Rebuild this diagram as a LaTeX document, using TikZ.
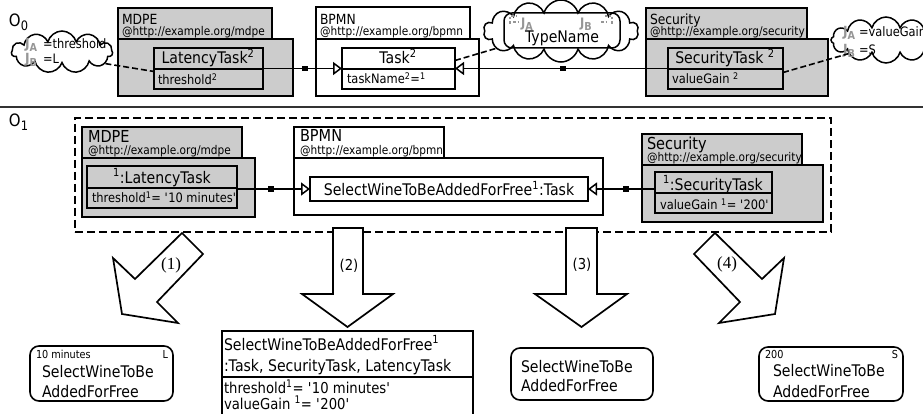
\documentclass[tikz,border=0pt]{standalone}
\usepackage{fontspec}
\setmainfont{DejaVu Sans}[FakeStretch=0.88]
\newfontfamily\numserif{Liberation Serif}
\usetikzlibrary{arrows.meta,shapes.symbols}
\definecolor{pkggray}{RGB}{204,204,204}
\definecolor{jgray}{RGB}{150,150,150}
\newcommand\fs[1]{\fontsize{#1}{#1}\selectfont}
\newcommand\supr[1]{\textsuperscript{#1}}
\newcommand\q{\textquotesingle}
\newcommand\Jsub[1]{{\color{jgray}\bfseries J\raisebox{-3pt}{\fs{11}#1}}}
\newcommand\Osub[1]{O\raisebox{-4pt}{\fs{13}#1}}
\begin{document}
\begin{tikzpicture}[x=1pt,y=-1pt,
  rect/.style={draw, anchor=north west, inner sep=0pt, outer sep=0pt},
  pkg/.style={rect, line width=2.4pt},
  cls/.style={rect, line width=2pt},
  divline/.style={line width=1.6pt},
  txt/.style={inner sep=0pt, outer sep=0pt, anchor=base west},
  ctxt/.style={inner sep=0pt, outer sep=0pt, anchor=base},
  rtxt/.style={inner sep=0pt, outer sep=0pt, anchor=base east},
  conn/.style={line width=1.5pt, -{Triangle[open, length=9pt, width=13pt, line width=1.5pt]}},
  sq/.style={fill=black, draw=none, minimum size=5.5pt, inner sep=0pt},
  dlink/.style={line width=1.6pt, dash pattern=on 6pt off 3pt},
  cloudst/.style={cloud, cloud puffs=11, cloud ignores aspect, draw, line width=1.5pt, fill=white, inner sep=0pt},
  result/.style={rect, line width=1.6pt, rounded corners=9pt},
  bigarrow/.style={draw, line width=1.7pt, fill=white, line join=miter},
  jcorner/.style={jgray, line width=1.2pt, dash pattern=on 2.5pt off 2pt},
]
\useasboundingbox (0,0) rectangle (923,414);

% ---------------- O_0 ----------------
\node[txt] (o0) at (9,27) {\fs{17}\Osub{0}};

% MDPE
\node[pkg, fill=pkggray, minimum width=154pt, minimum height=31pt] (mdpeTabA) at (118,8) {};
\node[pkg, fill=pkggray, minimum width=175pt, minimum height=57pt] (mdpeBodyA) at (118,39) {};
\node[cls, minimum width=109pt, minimum height=41pt] (latA) at (154,48) {};
\draw[divline] ([yshift=-21pt]latA.north west) -- ([yshift=-21pt]latA.north east);
\node[txt] (mdpeAn) at (122,25) {\fs{14}MDPE};
\node[txt] (mdpeAu) at (122,36) {\fs{12}@http://example.org/mdpe};
\node[ctxt] (latAn) at (208,64) {\fs{16}LatencyTask\supr{2}};
\node[txt] (latAa) at (158,85) {\fs{13}threshold\supr{2}};

% BPMN
\node[pkg, fill=white, minimum width=154pt, minimum height=32pt] (bpmnTabA) at (316,7) {};
\node[pkg, fill=white, minimum width=163pt, minimum height=57pt] (bpmnBodyA) at (316,39) {};
\node[cls, minimum width=113pt, minimum height=41pt] (taskA) at (342,48) {};
\draw[divline] ([yshift=-21pt]taskA.north west) -- ([yshift=-21pt]taskA.north east);
\node[txt] (bpmnAn) at (320,25) {\fs{14}BPMN};
\node[txt] (bpmnAu) at (320,36) {\fs{12}@http://example.org/bpmn};
\node[ctxt] (taskAn) at (398,64) {\fs{16}Task\supr{2}};
\node[txt] (taskAa) at (347,84) {\fs{13}taskName\supr{2}=\supr{1}};

% Security
\node[pkg, fill=pkggray, minimum width=161pt, minimum height=31pt] (secTabA) at (646,8) {};
\node[pkg, fill=pkggray, minimum width=182pt, minimum height=57pt] (secBodyA) at (646,39) {};
\node[cls, minimum width=115pt, minimum height=41pt] (secA) at (668,48) {};
\draw[divline] ([yshift=-21pt]secA.north west) -- ([yshift=-21pt]secA.north east);
\node[txt] (secAn) at (650,25) {\fs{14}Security};
\node[txt] (secAu) at (650,36) {\fs{12}@http://example.org/security};
\node[ctxt] (secAcn) at (725,64) {\fs{16}SecurityTask \supr{2}};
\node[txt] (secAa) at (672,84) {\fs{13}valueGain \supr{2}};

% connectors O_0
\draw[conn] (latA.east) -- (taskA.west);
\draw[conn] (secA.west) -- (taskA.east);
\node[sq] (sqA1) at (305,68.5) {};
\node[sq] (sqA2) at (563,68.5) {};

% clouds O_0
\node[cloudst, minimum width=101pt, minimum height=42pt] (cloudL) at (62,52) {};
\node[txt] (jaL) at (25,49) {\fs{14}\Jsub{A}};
\node[txt] (eqaL) at (43,49) {\fs{13}=threshold};
\node[txt] (jbL) at (25,64) {\fs{14}\Jsub{B}};
\node[txt] (eqbL) at (43,64) {\fs{13}=L};

\node[cloudst, cloud puffs=14, minimum width=155pt, minimum height=62pt] (cloudT) at (561,31) {};
\node[rect, line width=1.5pt, rounded corners=8pt, minimum width=116pt, minimum height=35pt] (tnBox) at (504,13) {};
\node[ctxt] (tnText) at (562,43) {\fs{16}TypeName};
\node[txt] (tnJA) at (521,28) {\fs{13}\Jsub{A}};
\node[txt] (tnJB) at (580,28) {\fs{13}\Jsub{B}};
\draw[jcorner] (510,24) -- (510,16) -- (517,16);
\draw[jcorner] (513,22) -- (518,22);
\draw[jcorner] (612,24) -- (612,16) -- (605,16);
\draw[jcorner] (601,22) -- (606,22);

\node[cloudst, cloud puffs=12, minimum width=110pt, minimum height=46pt] (cloudR) at (886,40) {};
\node[txt] (jaR) at (843,37) {\fs{14}\Jsub{A}};
\node[txt] (eqaR) at (859,37) {\fs{13}=valueGain};
\node[txt] (jbR) at (843,55) {\fs{14}\Jsub{B}};
\node[txt] (eqbR) at (859,55) {\fs{13}=S};

\draw[dlink] (cloudL.-15) -- ([yshift=-3pt]latA.west);
\draw[dlink] ([yshift=8pt]taskA.east) -- (cloudT.195);
\draw[dlink] ([yshift=-4pt]secA.east) -- (cloudR.200);

% separator
\draw[line width=1.6pt, black!80] (0,107) -- (923,107);

% ---------------- O_1 ----------------
\node[txt] (o1) at (9,127) {\fs{17}\Osub{1}};
\node[rect, line width=1.6pt, dash pattern=on 8pt off 4pt, minimum width=756pt, minimum height=114pt] (frame) at (75,118) {};

% MDPE
\node[pkg, fill=pkggray, minimum width=160pt, minimum height=31pt] (mdpeTabB) at (82,127) {};
\node[pkg, fill=pkggray, minimum width=173pt, minimum height=59pt] (mdpeBodyB) at (82,158) {};
\node[cls, minimum width=150pt, minimum height=42pt] (latB) at (87,166) {};
\draw[divline] ([yshift=-22pt]latB.north west) -- ([yshift=-22pt]latB.north east);
\node[txt] (mdpeBn) at (88,143) {\fs{16.5}MDPE};
\node[txt] (mdpeBu) at (88,155) {\fs{12}@http://example.org/mdpe};
\node[ctxt] (latBn) at (162,183) {\fs{16}\supr{1}:LatencyTask};
\node[txt] (latBa) at (92,203) {\fs{13}threshold\supr{1}= \q10 minutes\q};

% BPMN
\node[pkg, fill=white, minimum width=150pt, minimum height=31pt] (bpmnTabB) at (294,127) {};
\node[pkg, fill=white, minimum width=309pt, minimum height=57pt] (bpmnBodyB) at (294,158) {};
\node[cls, minimum width=278pt, minimum height=24pt] (selB) at (310,177) {};
\node[txt] (bpmnBn) at (300,142) {\fs{16.5}BPMN};
\node[txt] (bpmnBu) at (300,155) {\fs{12}@http://example.org/bpmn};
\node[ctxt] (selBn) at (449,196) {\fs{16}SelectWineToBeAddedForFree\supr{1}:Task};

% Security
\node[pkg, fill=pkggray, minimum width=160pt, minimum height=31pt] (secTabB) at (642,134) {};
\node[pkg, fill=pkggray, minimum width=181pt, minimum height=57pt] (secBodyB) at (642,165) {};
\node[cls, minimum width=117pt, minimum height=41pt] (secB) at (655,172) {};
\draw[divline] ([yshift=-21pt]secB.north west) -- ([yshift=-21pt]secB.north east);
\node[txt] (secBn) at (647,150) {\fs{16.5}Security};
\node[txt] (secBu) at (647,162) {\fs{12}@http://example.org/security};
\node[ctxt] (secBcn) at (713,190) {\fs{16}\supr{1}:SecurityTask};
\node[txt] (secBa) at (660,210) {\fs{13}valueGain \supr{1}= \q200\q};

% connectors O_1
\draw[conn] (latB.east |- selB.west) -- (selB.west);
\draw[conn] (secB.west |- selB.east) -- (selB.east);
\node[sq] (sqB1) at (271,189) {};
\node[sq] (sqB2) at (626,189) {};

% ---------------- big arrows ----------------
\draw[bigarrow] (182,233) -- (135,279) -- (113,258) -- (122,314) -- (178,323) -- (157,302) -- (203,254) -- cycle;
\draw[bigarrow] (333,228) -- (333,294) -- (302,294) -- (347.5,327) -- (393,294) -- (363,294) -- (363,228) -- cycle;
\draw[bigarrow] (566,228) -- (566,294) -- (535,294) -- (581.5,327) -- (627,294) -- (597,294) -- (597,228) -- cycle;
\draw[bigarrow] (715,233) -- (762,279) -- (784,258) -- (775,314) -- (719,323) -- (740,302) -- (694,254) -- cycle;
\node[anchor=center, inner sep=0pt] (lab1) at (171,265) {\numserif\fs{17}(1)};
\node[anchor=center, inner sep=0pt] (lab2) at (349,266) {\fs{15}(2)};
\node[anchor=center, inner sep=0pt] (lab3) at (582,265) {\fs{15}(3)};
\node[anchor=center, inner sep=0pt] (lab4) at (727,264) {\numserif\fs{17}(4)};

% ---------------- results ----------------
\node[result, minimum width=143pt, minimum height=55pt] (res1) at (30,346) {};
\node[txt] (res1s) at (36,358) {\fs{11}10 minutes};
\node[rtxt] (res1l) at (168,358) {\fs{11}L};
\node[txt] (res1a) at (42,377) {\fs{16}SelectWineToBe};
\node[txt] (res1b) at (42,397) {\fs{16}AddedForFree};

\node[rect, line width=1.6pt, minimum width=251pt, minimum height=86pt] (res2) at (222,331) {};
\draw[line width=1.3pt] ([yshift=-46pt]res2.north west) -- ([yshift=-46pt]res2.north east);
\node[txt] (res2a) at (224,350) {\fs{16}SelectWineToBeAddedForFree\supr{1}};
\node[txt] (res2b) at (224,371) {\fs{16}:Task, SecurityTask, LatencyTask};
\node[txt] (res2c) at (224,393) {\fs{15}threshold\supr{1}= \q10 minutes\q};
\node[txt] (res2d) at (224,409) {\fs{15}valueGain \supr{1}= \q200\q};

\node[result, minimum width=142pt, minimum height=52pt] (res3) at (511,348) {};
\node[txt] (res3a) at (521,372) {\fs{16}SelectWineToBe};
\node[txt] (res3b) at (521,391) {\fs{16}AddedForFree};

\node[result, minimum width=144pt, minimum height=54pt] (res4) at (759,347) {};
\node[txt] (res4s) at (765,358) {\fs{11}200};
\node[rtxt] (res4l) at (898,358) {\fs{11}S};
\node[txt] (res4a) at (773,376) {\fs{16}SelectWineToBe};
\node[txt] (res4b) at (773,397) {\fs{16}AddedForFree};
\end{tikzpicture}
\end{document}
